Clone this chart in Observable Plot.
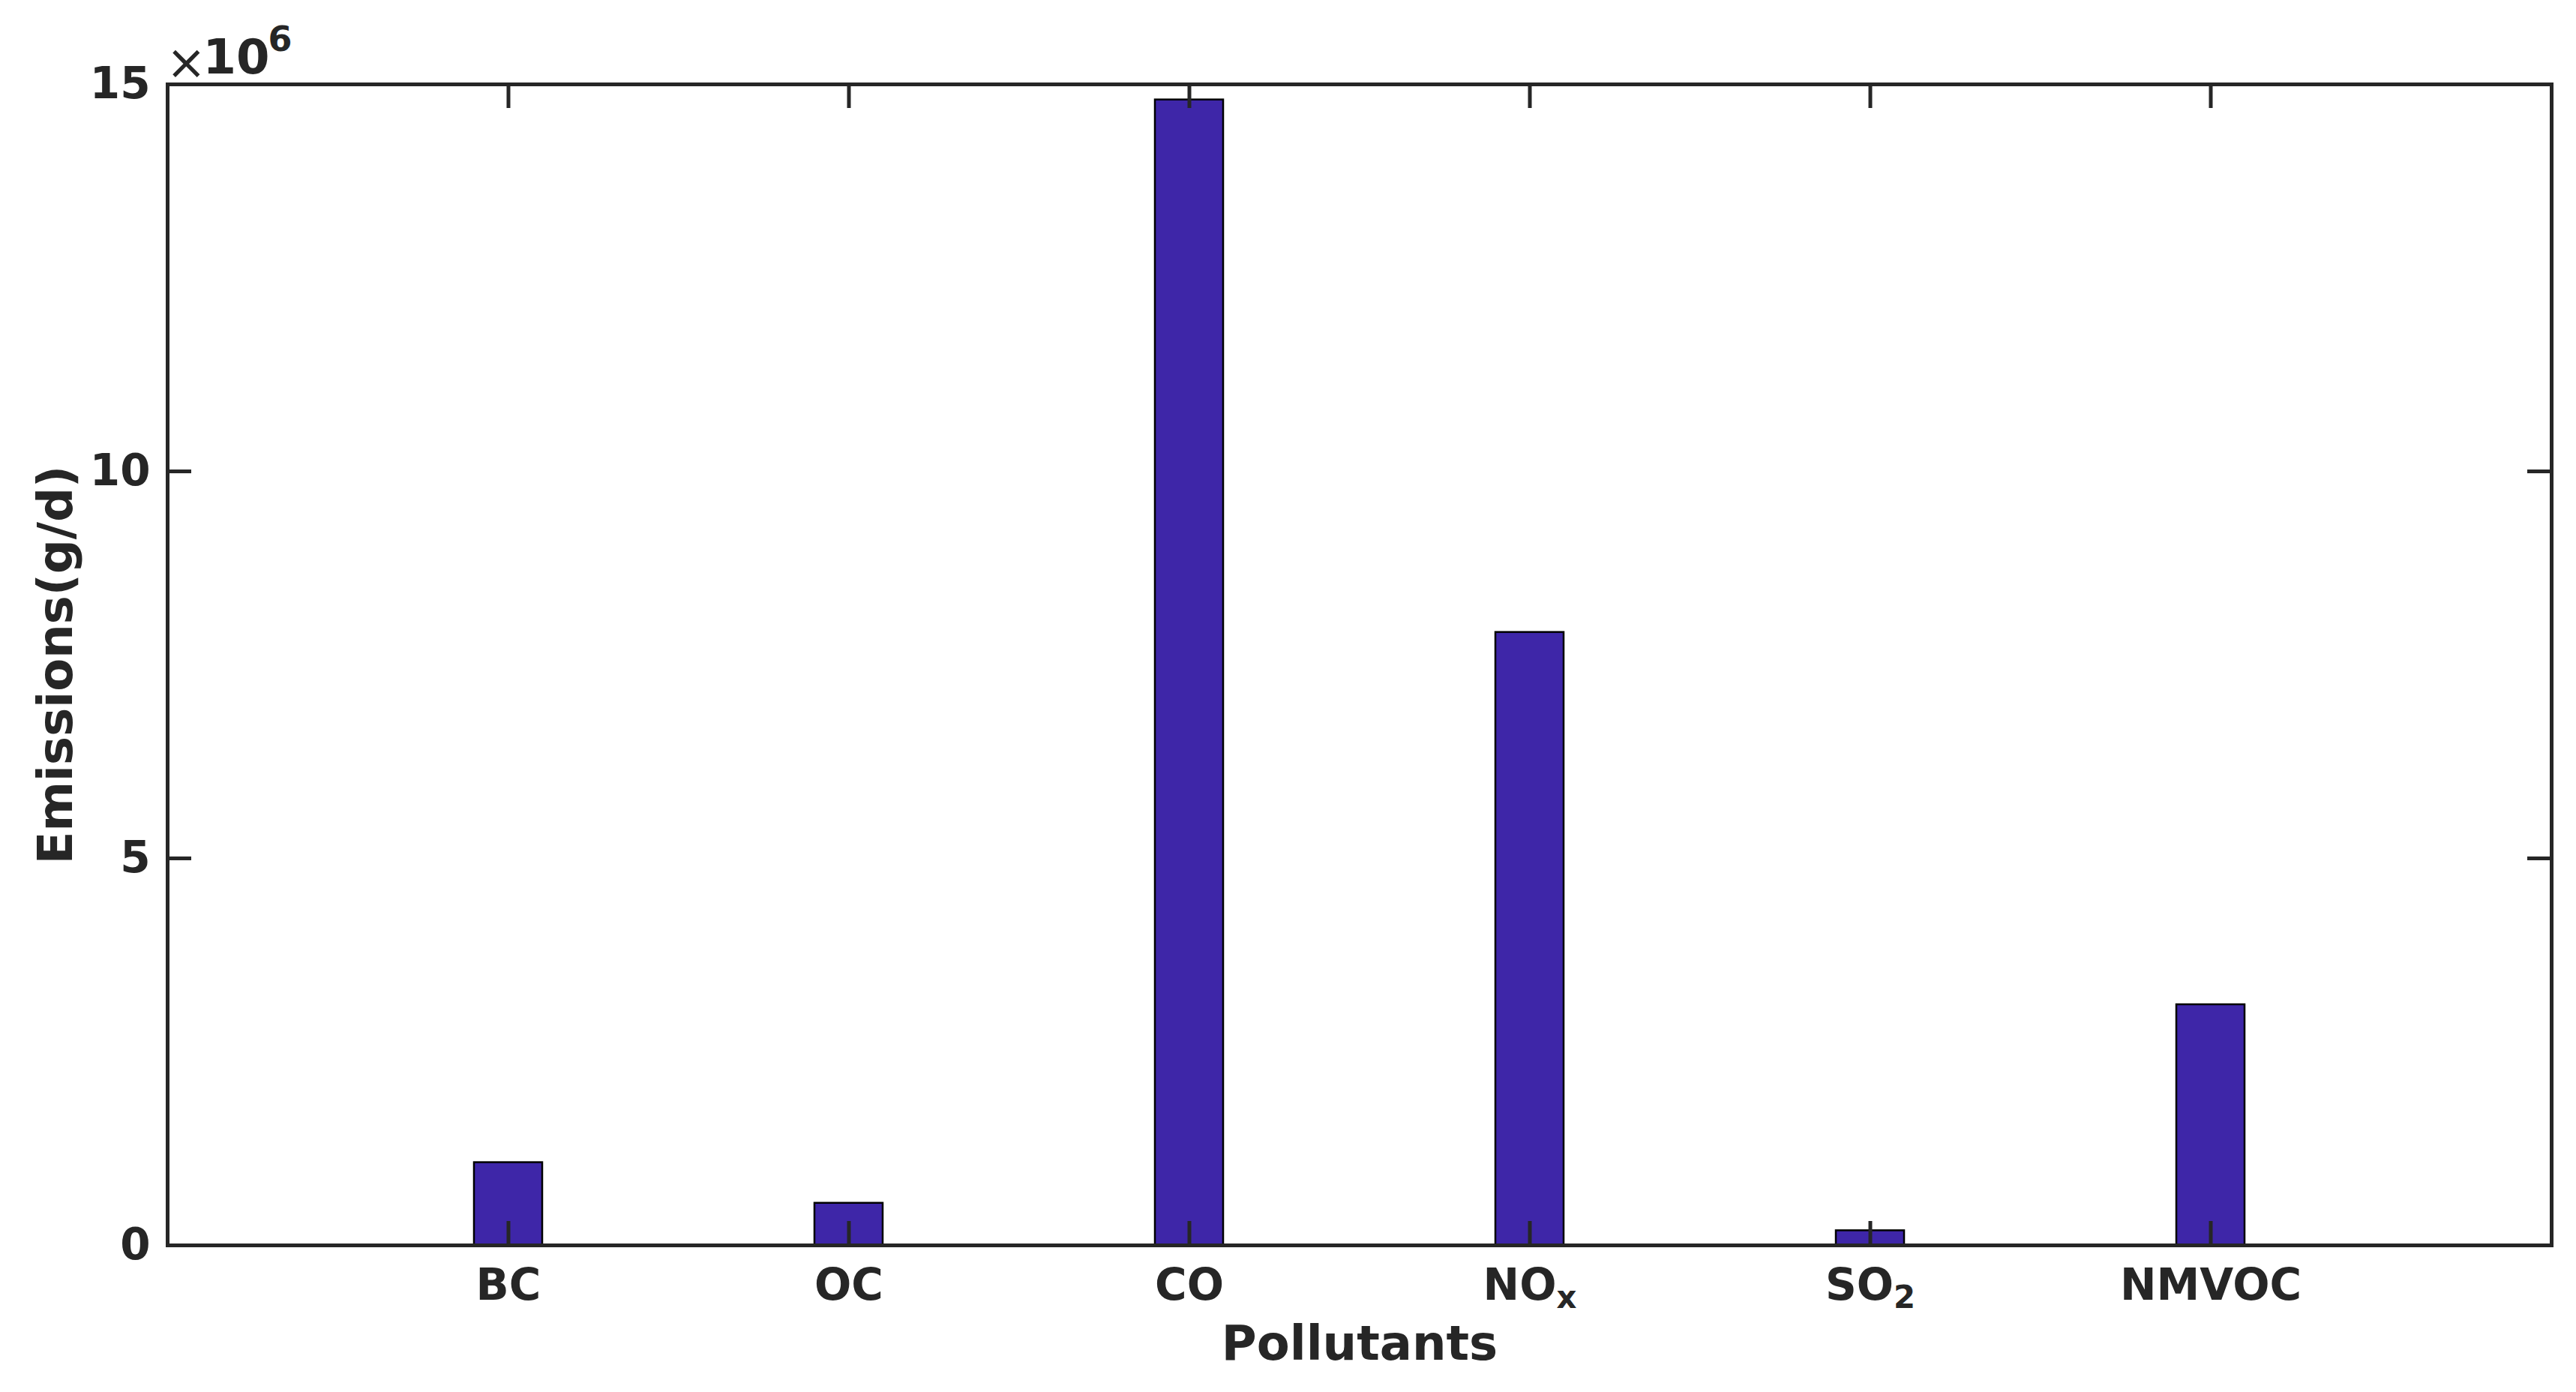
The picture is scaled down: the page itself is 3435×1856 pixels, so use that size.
<!DOCTYPE html>
<html><head><meta charset="utf-8">
<script src="https://cdn.jsdelivr.net/npm/d3@7"></script>
<script src="https://cdn.jsdelivr.net/npm/@observablehq/plot@0.6"></script>
<style>html,body{margin:0;padding:0;background:#fff}</style>
</head><body><div id="chart"></div>
<script>
const categories = ["BC", "OC", "CO", "NOx", "SO2", "NMVOC"];
const labelMain = ["BC", "OC", "CO", "NO", "SO", "NMVOC"];
const labelSub = ["", "", "", "x", "2", ""];
const emissions = [1.07e6, 0.545e6, 14.8e6, 7.92e6, 0.19e6, 3.11e6];
const yTicks = [0, 5e6, 10e6, 15e6];
const yTickLabels = ["0", "5", "10", "15"];
const xLabel = "Pollutants";
const yLabel = "Emissions(g/d)";
const expTimes = "×";
const expBase = "10";
const expPower = "6";

const data = categories.map((c, i) => ({pollutant: c, value: emissions[i]}));

const W = 3435, H = 1856, mL = 223, mR = 33, mT = 112, mB = 196;
const innerW = W - mL - mR, innerH = H - mT - mB;
const tickLen = 32;
const ink = "#262626";

const chart = Plot.plot({
  width: W, height: H,
  marginLeft: mL, marginRight: mR, marginTop: mT, marginBottom: mB,
  style: {fontFamily: "'DejaVu Sans', sans-serif", fontWeight: "bold", color: ink, background: "#fff"},
  x: {type: "band", domain: categories, paddingInner: 0.8, paddingOuter: 0.9},
  y: {domain: [0, 15e6]},
  marks: [
    Plot.barY(data, {x: "pollutant", y: "value", fill: "#3e26a8", stroke: "#000", strokeWidth: 2.5}),
    Plot.tickX(categories, {x: d => d, stroke: ink, strokeWidth: 5, insetTop: innerH - tickLen}),
    Plot.tickX(categories, {x: d => d, stroke: ink, strokeWidth: 5, insetBottom: innerH - tickLen}),
    Plot.tickY(yTicks, {y: d => d, stroke: ink, strokeWidth: 5, insetRight: innerW - tickLen}),
    Plot.tickY(yTicks, {y: d => d, stroke: ink, strokeWidth: 5, insetLeft: innerW - tickLen}),
    Plot.frame({stroke: ink, strokeWidth: 5}),
    Plot.axisX({tickSize: 0, tickPadding: 31, fontSize: 58, label: null, tickFormat: d => d}),
    Plot.axisY({ticks: yTicks, tickSize: 0, tickPadding: 23, fontSize: 58, label: null,
      tickFormat: d => yTickLabels[yTicks.indexOf(d)]}),
    Plot.text([xLabel], {frameAnchor: "bottom", textAnchor: "middle", lineAnchor: "middle", dy: 132, fontSize: 64}),
    Plot.text([yLabel], {frameAnchor: "left", textAnchor: "middle", lineAnchor: "middle", dx: -148, rotate: -90, fontSize: 64}),
    Plot.text([expTimes], {frameAnchor: "top-left", textAnchor: "start", lineAnchor: "middle", dx: -2, dy: -27.5, fontSize: 64, fontWeight: "normal"}),
    Plot.text([expBase], {frameAnchor: "top-left", textAnchor: "start", lineAnchor: "middle", dx: 47, dy: -34.5, fontSize: 64}),
    Plot.text([expPower], {frameAnchor: "top-left", textAnchor: "start", lineAnchor: "middle", dx: 134, dy: -59, fontSize: 46})
  ]
});

// subscripts on x tick labels
d3.select(chart).selectAll('g[aria-label="x-axis tick label"] text').each(function() {
  const i = categories.indexOf(this.textContent);
  if (i < 0 || !labelSub[i]) return;
  const t = d3.select(this);
  t.text(labelMain[i]);
  t.append("tspan").attr("dy", "0.28em").attr("font-size", "0.72em").text(labelSub[i]);
});

document.getElementById("chart").appendChild(chart);
</script>
</body></html>
